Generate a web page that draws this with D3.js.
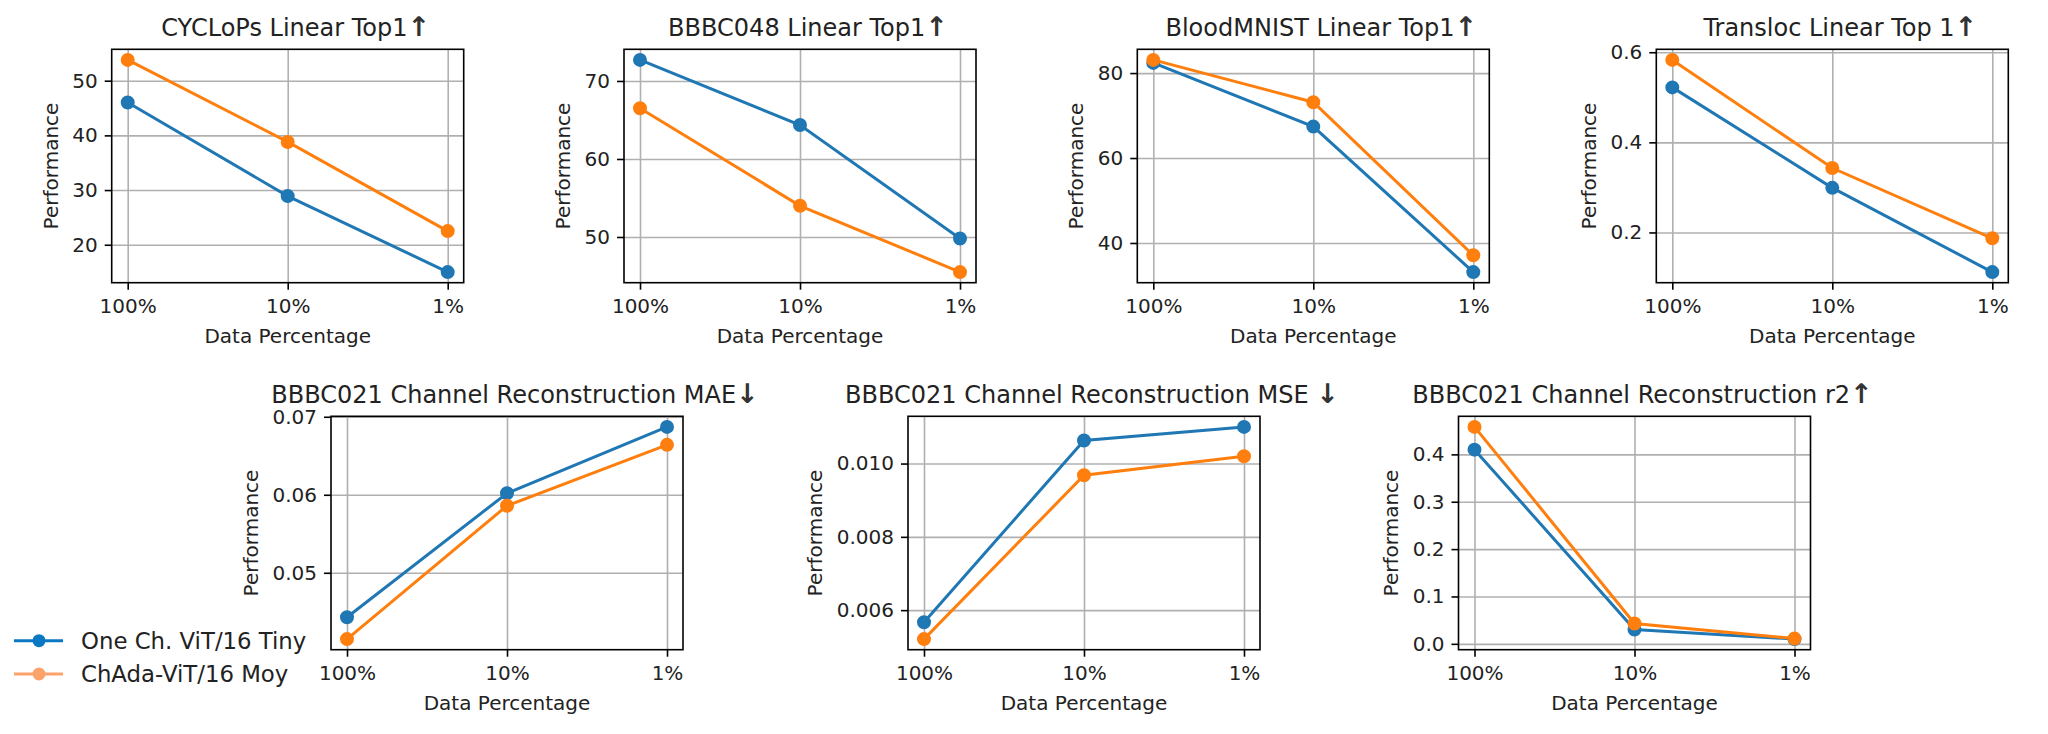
<!DOCTYPE html>
<html>
<head>
<meta charset="utf-8">
<script src="https://cdn.jsdelivr.net/npm/d3@7"></script>
<style>
  body { margin: 0; background: #fff; }
  svg { display: block; font-family: "DejaVu Sans", sans-serif; }
</style>
</head>
<body>
<svg id="chart" width="2048" height="734"></svg>
<script>
var categories = ["100%", "10%", "1%"];

// title text and its direction arrow kept apart so the arrow can be drawn heavier
var titles = [
  "CYCLoPs Linear Top1",
  "BBBC048 Linear Top1",
  "BloodMNIST Linear Top1",
  "Transloc Linear Top 1",
  "BBBC021 Channel Reconstruction MAE",
  "BBBC021 Channel Reconstruction MSE ",
  "BBBC021 Channel Reconstruction r2"
];
var titleArrows = ["\u2191", "\u2191", "\u2191", "\u2191", "\u2193", "\u2193", "\u2191"];

var seriesNames = ["One Ch. ViT/16 Tiny", "ChAda-ViT/16 Moy"];

var oneChTiny = [
  [46.0, 28.9, 15.0],
  [72.7, 64.35, 49.8],
  [82.4, 67.4, 33.15],
  [0.522, 0.299, 0.112],
  [0.0443, 0.0602, 0.0687],
  [0.00567, 0.01063, 0.0110],
  [0.410, 0.030, 0.010]
];

var chadaMoy = [
  [53.8, 38.8, 22.5],
  [66.5, 54.0, 45.5],
  [83.1, 73.15, 37.1],
  [0.583, 0.343, 0.187],
  [0.0415, 0.0586, 0.0664],
  [0.00521, 0.00968, 0.0102],
  [0.458, 0.043, 0.011]
];

var yTicks = [
  [20, 30, 40, 50],
  [50, 60, 70],
  [40, 60, 80],
  [0.2, 0.4, 0.6],
  [0.05, 0.06, 0.07],
  [0.006, 0.008, 0.010],
  [0.0, 0.1, 0.2, 0.3, 0.4]
];
var yFormats = ["d", "d", "d", ".1f", ".2f", ".3f", ".1f"];

// layout
var W = 352, H = 233.4;
var panelPos = [
  [111.7, 49.3], [624, 49.3], [1137.3, 49.3], [1656.3, 49.3],
  [331, 416.3], [908, 416.3], [1458.5, 416.3]
];
var blue = "#1f77b4", orange = "#ff7f0e";
var textColor = "#222";

var svg = d3.select("#chart");

function drawPanel(i) {
  var g = svg.append("g")
      .attr("transform", "translate(" + panelPos[i][0] + "," + panelPos[i][1] + ")");

  var all = oneChTiny[i].concat(chadaMoy[i]);
  var lo = d3.min(all), hi = d3.max(all), pad = (hi - lo) * 0.05;

  var x = d3.scalePoint().domain(categories).range([0, W]).padding(0.1);
  var y = d3.scaleLinear().domain([lo - pad, hi + pad]).range([H, 0]);

  // grid
  var gy = g.append("g").call(d3.axisLeft(y).tickValues(yTicks[i]).tickSize(-W).tickFormat(""));
  var gx = g.append("g").attr("transform", "translate(0," + H + ")")
      .call(d3.axisBottom(x).tickSize(-H).tickFormat(""));
  [gx, gy].forEach(function(a) {
    a.select(".domain").remove();
    a.selectAll("line").style("stroke", "#b0b0b0").style("stroke-width", "1.6px");
  });

  // series
  var line = d3.line()
      .x(function(d, k) { return x(categories[k]); })
      .y(function(d) { return y(d); });

  [[oneChTiny[i], blue], [chadaMoy[i], orange]].forEach(function(s) {
    g.append("path")
        .attr("d", line(s[0]))
        .style("fill", "none")
        .style("stroke", s[1])
        .style("stroke-width", "3px");
    g.selectAll(null).data(s[0]).enter().append("circle")
        .attr("cx", function(d, k) { return x(categories[k]); })
        .attr("cy", function(d) { return y(d); })
        .attr("r", 6)
        .style("fill", s[1])
        .style("stroke", s[1])
        .style("stroke-width", "2px");
  });

  // frame
  g.append("rect")
      .attr("width", W).attr("height", H)
      .style("fill", "none")
      .style("stroke", "#000")
      .style("stroke-width", "1.6px");

  // axes
  var ax = g.append("g").attr("transform", "translate(0," + H + ")")
      .call(d3.axisBottom(x).tickSize(7).tickPadding(7));
  var ay = g.append("g")
      .call(d3.axisLeft(y).tickValues(yTicks[i]).tickFormat(d3.format(yFormats[i])).tickSize(7).tickPadding(7));
  [ax, ay].forEach(function(a) {
    a.select(".domain").remove();
    a.selectAll("line").style("stroke", "#000").style("stroke-width", "1.6px");
    a.selectAll("text").style("font-size", "20px").style("fill", textColor)
        .style("font-family", "DejaVu Sans");
  });
  ax.selectAll("text").attr("y", 0).attr("dy", 30.6);

  var maxW = 0;
  ay.selectAll("text").each(function() {
    maxW = Math.max(maxW, this.getComputedTextLength());
  });

  g.append("text")
      .attr("transform", "translate(" + (-14 - maxW - 8 - 6.5) + "," + (H / 2) + ") rotate(-90)")
      .attr("text-anchor", "middle")
      .style("font-size", "20px")
      .style("fill", textColor)
      .text("Performance");

  g.append("text")
      .attr("x", W / 2)
      .attr("y", H + 60.6)
      .attr("text-anchor", "middle")
      .style("font-size", "20px")
      .style("fill", textColor)
      .text("Data Percentage");

  var t = g.append("text")
      .attr("x", W / 2 + 8)
      .attr("y", -13.3)
      .attr("text-anchor", "middle")
      .style("font-size", "24px")
      .style("fill", textColor)
      .style("white-space", "pre");
  t.append("tspan").text(titles[i]);
  t.append("tspan")
      .style("font-weight", "bold")
      .style("font-size", "27px")
      .style("fill", "#333")
      .text(titleArrows[i]);
}

for (var i = 0; i < titles.length; i++) drawPanel(i);

// legend
var legendColors = ["#0b78c4", "#fda26a"];
var legend = svg.append("g").attr("transform", "translate(14,640.7)");
seriesNames.forEach(function(name, k) {
  var row = legend.append("g").attr("transform", "translate(0," + (k * 33.3) + ")");
  row.append("line")
      .attr("x1", 0).attr("x2", 49)
      .style("stroke", legendColors[k])
      .style("stroke-width", "3px");
  row.append("circle")
      .attr("cx", 25).attr("r", 6.5)
      .style("fill", legendColors[k]);
  row.append("text")
      .attr("x", 67)
      .attr("dy", "0.36em")
      .style("font-size", "22.8px")
      .style("fill", textColor)
      .text(name);
});
</script>
</body>
</html>
